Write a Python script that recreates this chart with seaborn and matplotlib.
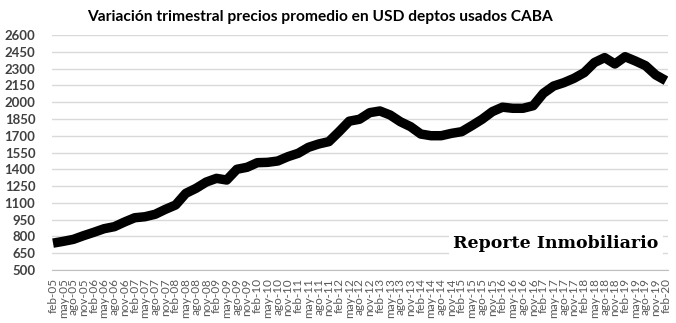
import matplotlib
matplotlib.use("Agg")
import matplotlib.pyplot as plt
import seaborn as sns
import pandas as pd

title = "Variación trimestral precios promedio en USD deptos usados CABA"
months = ["feb", "may", "ago", "nov"]
labels = [f"{months[i % 4]}-{5 + i // 4:02d}" for i in range(61)]
values = [740, 756, 774, 807, 837, 869, 887, 929, 967, 976,
          998, 1042, 1081, 1185, 1230, 1286, 1319, 1304, 1400, 1418,
          1459, 1462, 1474, 1513, 1543, 1596, 1626, 1647, 1736, 1830,
          1847, 1906, 1921, 1885, 1825, 1781, 1715, 1700, 1700, 1721,
          1736, 1790, 1847, 1915, 1955, 1945, 1945, 1968, 2079, 2144,
          2174, 2213, 2264, 2354, 2398, 2341, 2406, 2368, 2326, 2243,
          2192]
yticks = list(range(500, 2601, 150))
watermark = "Reporte Inmobiliario"

df = pd.DataFrame({"idx": range(len(values)), "precio": values})

sns.set_style("white")
plt.rcParams["font.family"] = ["Lato", "DejaVu Sans"]

fig = plt.figure(figsize=(6.76, 3.23), dpi=100)
ax = fig.add_axes([52 / 676, 1 - 270 / 323, (668 - 52) / 676, (270 - 35) / 323])

sns.lineplot(data=df, x="idx", y="precio", ax=ax, color="black", linewidth=6.8,
             solid_joinstyle="round", solid_capstyle="butt")

ax.set_ylim(500, 2600)
ax.set_yticks(yticks)
ax.set_yticklabels([str(v) for v in yticks], fontsize=9.5, fontweight="bold", color="#404040")
ax.set_xlim(-0.1, 60.2)
ax.set_xticks(range(len(labels)))
ax.set_xticklabels(labels, rotation=90, fontsize=8.5, color="#595959")
ax.tick_params(axis="y", length=0, pad=12)
ax.tick_params(axis="x", length=4, width=0.8, color="#bfbfbf", pad=2, direction="out")
ax.grid(axis="y", color="#d9d9d9", linewidth=1)
ax.set_axisbelow(True)
for s in ["left", "right", "top"]:
    ax.spines[s].set_visible(False)
ax.spines["bottom"].set_color("#bfbfbf")
ax.spines["bottom"].set_linewidth(0.8)
ax.set_xlabel("")
ax.set_ylabel("")

ax.text(0.985, 0.112, watermark, transform=ax.transAxes, ha="right", va="center",
        fontsize=12.5, fontweight="bold", family="DejaVu Serif", color="black",
        bbox=dict(facecolor="white", edgecolor="none", pad=3), zorder=1)

fig.text(320 / 676, 1 - 17 / 323, title, ha="center", va="center",
         fontsize=11.2, fontweight="bold", color="black")

fig.savefig("out.png", dpi=100)
